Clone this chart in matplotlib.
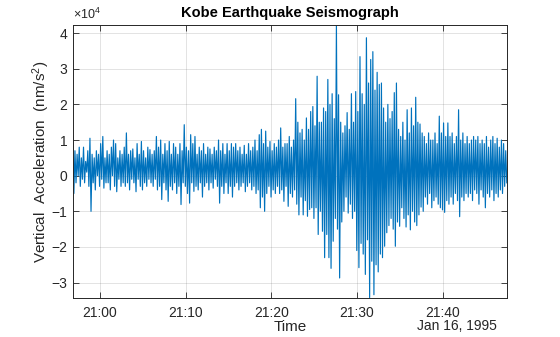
import numpy as np
import matplotlib
matplotlib.use('Agg')
from matplotlib import pyplot as plt
import matplotlib.dates as mdates

plt.rcParams['font.family'] = ['Liberation Sans', 'DejaVu Sans']
plt.rcParams['mathtext.fontset'] = 'custom'
plt.rcParams['mathtext.rm'] = 'Liberation Sans'
plt.rcParams['mathtext.it'] = 'Liberation Sans'

# vertical acceleration, units of 1e4 nm/s^2 (8 samples / minute)
accel = [
    1.1, -0.5, 0.7, -0.2, 0.6, 0.0, 0.8, -0.3,
    0.5, -0.1, 0.8, -0.2, 0.4, 0.1, 0.7, -0.3,
    1.05, -1.0, 0.6, -0.2, 0.5, -0.4, 0.7, 0.0,
    0.6, -0.3, 0.9, -0.1, 1.1, -0.35, 0.5, -0.2,
    0.7, -0.2, 0.6, -0.4, 0.8, 0.0, 1.0, -0.3,
    0.9, -0.45, 0.5, -0.1, 0.7, -0.3, 0.6, -0.2,
    0.8, -0.3, 1.2, -0.2, 0.6, -0.4, 0.7, -0.1,
    0.75, -0.2, 0.5, -0.45, 0.9, -0.1, 0.6, -0.3,
    0.96, -0.4, 0.7, -0.2, 0.5, -0.3, 0.8, -0.1,
    0.73, -0.2, 0.6, -0.3, 0.7, -0.1, 1.1, -0.4,
    0.8, -0.3, 1.0, -0.67, 0.6, -0.2, 0.9, -0.4,
    0.7, -0.72, 0.96, -0.3, 0.6, -0.4, 0.9, -0.2,
    0.8, -0.5, 0.6, -0.3, 0.9, -0.81, 0.7, -0.2,
    1.43, -0.3, 0.8, -0.5, 0.7, -0.77, 1.15, -0.2,
    0.9, -0.44, 1.1, -0.3, 0.6, -0.4, 0.8, -0.2,
    0.7, -0.6, 0.9, -0.3, 0.6, -0.2, 0.8, -0.4,
    0.75, -0.2, 0.6, -0.35, 0.8, -0.1, 0.7, -0.3,
    1.0, -0.77, 0.7, -0.3, 0.9, -0.5, 0.6, -0.2,
    0.9, -0.5, 0.7, -0.3, 0.9, -0.6, 0.8, -0.3,
    0.9, -0.2, 0.7, -0.4, 0.8, -0.3, 0.6, -0.2,
    0.85, -0.45, 0.6, -0.3, 0.9, -0.2, 0.7, -0.4,
    0.8, -0.3, 1.0, -0.5, 0.7, -0.4, 1.15, -0.9,
    1.3, -0.6, 0.9, -1.0, 1.25, -0.5, 0.8, -0.3,
    0.96, -0.6, 0.7, -0.4, 0.9, -0.5, 0.8, -0.3,
    1.0, -0.5, 1.34, -0.4, 0.8, -0.72, 0.9, -0.3,
    0.9, -0.86, 1.1, -0.5, 0.8, -0.6, 1.0, -0.4,
    2.16, -0.8, 1.5, -1.1, 1.2, -0.6, 1.3, -1.1,
    1.0, -0.7, 1.62, -1.14, 1.3, -0.95, 1.8, -0.9,
    1.94, -1.2, 1.4, -0.9, 2.79, -1.65, 1.5, -1.0,
    1.5, -1.56, 1.9, -2.3, 1.8, -1.65, 2.7, -2.3,
    2.0, -2.6, 2.3, -1.84, 1.6, -1.2, 4.22, -1.5,
    2.27, -2.87, 1.5, -1.3, 1.2, -1.0, 1.4, -0.6,
    1.77, -1.05, 1.3, -0.8, 2.3, -1.2, 1.5, -1.0,
    2.36, -2.1, 1.8, -2.58, 3.34, -1.9, 2.3, -2.2,
    2.0, -2.77, 3.87, -1.8, 2.6, -3.42, 3.26, -2.4,
    3.48, -3.34, 2.4, -2.5, 2.9, -2.7, 2.56, -2.2,
    2.6, -2.3, 1.9, -1.98, 1.5, -1.6, 2.0, -1.4,
    1.6, -1.2, 1.8, -1.5, 2.33, -1.98, 2.6, -1.3,
    1.3, -1.42, 1.1, -0.9, 1.5, -1.2, 1.0, -1.44,
    1.85, -1.1, 1.2, -1.52, 1.9, -1.0, 1.4, -1.3,
    2.2, -1.4, 1.5, -1.1, 1.45, -0.88, 1.2, -1.0,
    1.1, -0.6, 0.9, -0.8, 1.2, -0.5, 1.0, -0.9,
    1.0, -0.7, 1.2, -0.6, 0.9, -0.8, 1.67, -0.9,
    1.2, -0.96, 1.48, -1.03, 1.1, -0.7, 1.48, -0.8,
    1.1, -0.6, 1.2, -0.8, 0.9, -0.5, 1.1, -0.7,
    1.85, -1.15, 1.0, -0.6, 1.2, -0.7, 0.9, -0.5,
    1.1, -0.6, 0.9, -0.5, 1.0, -0.7, 1.1, -0.4,
    1.0, -0.5, 1.1, -0.8, 0.9, -0.4, 1.0, -0.6,
    0.9, -0.9, 1.1, -0.5, 0.8, -0.6, 1.0, -0.4,
    1.1, -0.7, 0.9, -0.5, 1.05, -0.6, 0.8, -0.4,
    1.0, -0.5, 0.9, -0.3, 0.7, -0.2,
]
start_time = np.datetime64('1995-01-16T20:56:51')
sample_step_ms = 7500
y_ticks = [-3, -2, -1, 0, 1, 2, 3, 4]
x_ticks = ['1995-01-16T21:00', '1995-01-16T21:10', '1995-01-16T21:20',
           '1995-01-16T21:30', '1995-01-16T21:40']

accel = np.array(accel)
t = start_time + np.arange(len(accel)) * np.timedelta64(sample_step_ms, 'ms')
t = t.astype('datetime64[ms]').astype(object)

txt = '#262626'
fig = plt.figure(figsize=(5.6, 3.37), dpi=100)
ax = fig.add_axes([0.13, 0.117, 0.775, 0.808])
ax.plot(t, accel, color='#0072BD', lw=0.85)

ax.set_xlim(t[0], t[-1])
ax.set_ylim(accel.min(), accel.max())
ax.set_yticks(y_ticks)
ax.set_xticks([np.datetime64(s).astype(object) for s in x_ticks])
ax.xaxis.set_major_formatter(mdates.DateFormatter('%H:%M'))

ax.grid(True, color='#262626', alpha=0.15, lw=0.6)
ax.tick_params(direction='in', top=True, right=True, length=4, width=0.6,
               labelsize=10, colors=txt, labelcolor=txt)
ax.tick_params(axis='x', pad=6)
ax.tick_params(axis='y', pad=4)
for s in ax.spines.values():
    s.set_linewidth(0.7)
    s.set_color(txt)

ax.set_title('Kobe Earthquake Seismograph', fontsize=10.5, fontweight='bold',
             color='black', pad=6)
ax.set_xlabel('Time', fontsize=11, color=txt, labelpad=0)
ax.set_ylabel('Vertical  Acceleration  (nm/s$^2$)', fontsize=11, color=txt)
ax.yaxis.set_label_coords(-0.047, 0.5)
ax.text(0.0, 1.012, r'$\times10^{4}$', transform=ax.transAxes, fontsize=9,
        color=txt, ha='left', va='bottom')
fig.text(497 / 560, 1 - 326 / 337, 'Jan 16, 1995', fontsize=10, color=txt,
         ha='right', va='center')

fig.savefig('out.png', dpi=100)
